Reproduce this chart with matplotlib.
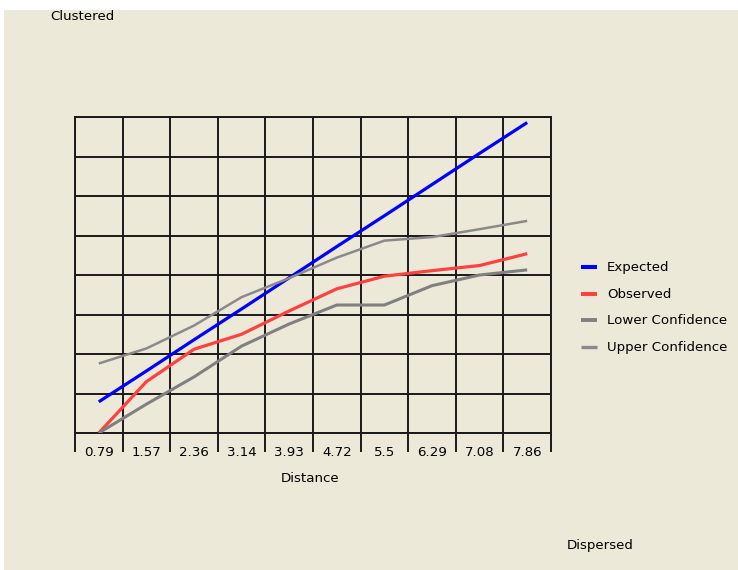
import matplotlib
matplotlib.use("Agg")
import matplotlib.pyplot as plt
from matplotlib.lines import Line2D
from matplotlib.patches import Rectangle

# Distance bands (x categories)
distances = ["0.79", "1.57", "2.36", "3.14", "3.93", "4.72", "5.5", "6.29", "7.08", "7.86"]

# L(d) values per distance band
expected = [0.79, 1.57, 2.36, 3.14, 3.93, 4.72, 5.50, 6.29, 7.08, 7.86]
observed = [0.00, 1.30, 2.12, 2.50, 3.09, 3.65, 3.97, 4.11, 4.24, 4.54]
lower_conf = [0.00, 0.73, 1.42, 2.20, 2.76, 3.24, 3.24, 3.73, 4.00, 4.13]
upper_conf = [1.76, 2.14, 2.72, 3.44, 3.92, 4.44, 4.87, 4.96, 5.16, 5.37]

series_names = ["Expected", "Observed", "Lower Confidence", "Upper Confidence"]
series_colors = ["#0000ff", "#ff4040", "#808080", "#8a8a8a"]
series_widths = [2.3, 2.3, 2.2, 1.8]

BG = "#ece9d8"
W, H = 738, 570
FS = 9.6

fig = plt.figure(figsize=(W / 100, H / 100), dpi=100, facecolor="white")
fig.patches.append(Rectangle((4 / W, 0), 1, 1 - 10 / H, transform=fig.transFigure,
                             facecolor=BG, edgecolor="none", zorder=-10))

ax = fig.add_axes([75 / W, (H - 433) / H, (551 - 75) / W, (433 - 117) / H])
ax.set_facecolor(BG)

xs = list(range(len(distances)))
for vals, name, col, lw in zip([expected, observed, lower_conf, upper_conf],
                               series_names, series_colors, series_widths):
    ax.plot(xs, vals, color=col, lw=lw, solid_capstyle="butt", zorder=3)

ax.set_xlim(-0.5, len(distances) - 0.5)
ax.set_ylim(0, 8)

# Labels centred in each band, tick marks on band boundaries
ax.set_xticks(xs)
ax.set_xticklabels(distances, fontsize=FS, family="DejaVu Sans")
ax.tick_params(axis="x", which="major", length=0, pad=9)
ax.set_xticks([i - 0.5 for i in range(len(distances) + 1)], minor=True)
ax.tick_params(axis="x", which="minor", length=14, width=1.4, direction="out",
               color="#1a1a1a")
ax.set_yticks(range(0, 9))
ax.tick_params(axis="y", length=0, labelleft=False)

ax.grid(True, which="minor", axis="x", color="#1a1a1a", lw=1.4, zorder=1)
ax.grid(True, which="major", axis="y", color="#1a1a1a", lw=1.4, zorder=1)
ax.grid(False, which="major", axis="x")
for s in ax.spines.values():
    s.set_color("#1a1a1a")
    s.set_linewidth(1.4)

fig.text(310 / W, 1 - 479 / H, "Distance", ha="center", va="center", fontsize=FS)
fig.text(50 / W, 1 - 17 / H, "Clustered", ha="left", va="center", fontsize=FS)
fig.text(567 / W, 1 - 545 / H, "Dispersed", ha="left", va="center", fontsize=FS)

# Legend
leg_y = [267, 294, 320, 347]
for name, col, lw, yy in zip(series_names, series_colors, series_widths, leg_y):
    fig.add_artist(Line2D([581 / W, 597 / W], [1 - yy / H, 1 - yy / H],
                          transform=fig.transFigure, color=col, lw=lw + 0.6,
                          solid_capstyle="butt"))
    fig.text(607 / W, 1 - yy / H, name, ha="left", va="center", fontsize=FS)

fig.savefig("out.png", dpi=100, facecolor=fig.get_facecolor())
